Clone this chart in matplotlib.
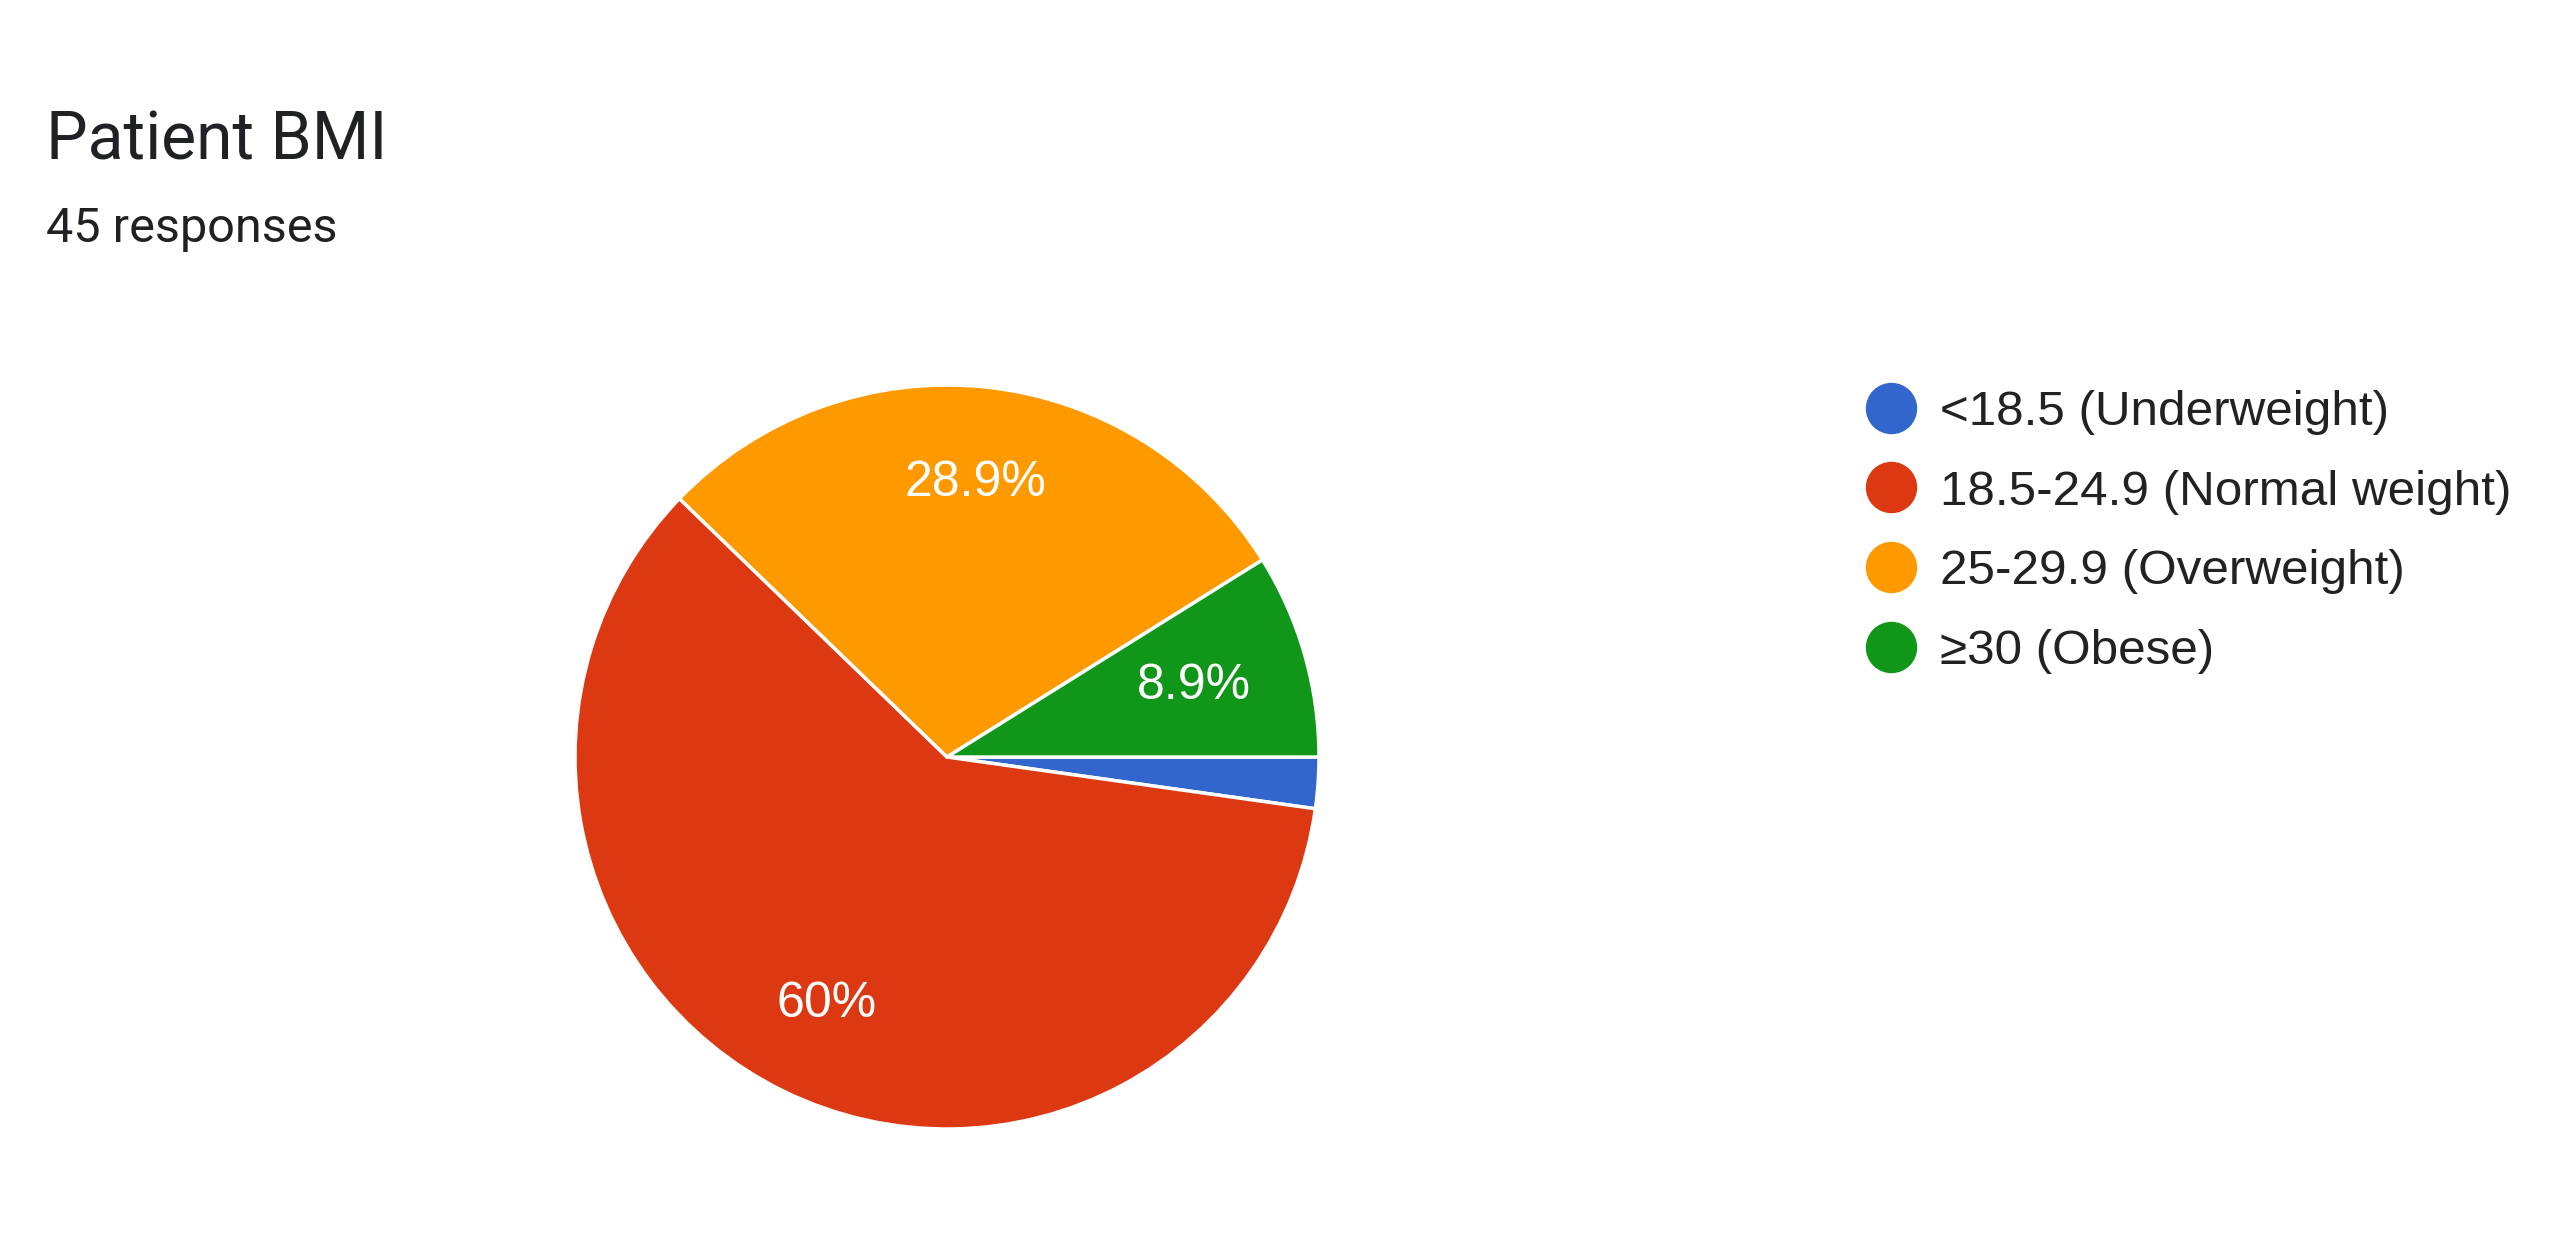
import numpy as np
import matplotlib.pyplot as plt
from matplotlib.lines import Line2D

# datos de la encuesta
categorias = ["<18.5 (Underweight)", "18.5-24.9 (Normal weight)",
              "25-29.9 (Overweight)", "≥30 (Obese)"]
respuestas = [1, 27, 13, 4]
colores = ["#3366cc", "#dc3912", "#ff9900", "#109618"]
titulo = "Patient BMI"
subtitulo = "45 responses"

W, H = 2560, 1237
fig = plt.figure(figsize=(W/100, H/100), dpi=100)

def etiqueta(p):
    if p < 5:
        return ""
    return f"{round(p, 1):g}%"

# pie: centro (947, 757) px, radio 372 px
cx, cy, r = 947, 757, 372
ax = fig.add_axes([(cx-r)/W, (H-cy-r)/H, 2*r/W, 2*r/H])
cunas, textos, pcts = ax.pie(respuestas, colors=colores, startangle=0, counterclock=False,
                             autopct=etiqueta, pctdistance=0.74,
                             wedgeprops=dict(edgecolor="white", linewidth=2.5),
                             textprops=dict(color="white", fontsize=36, family="Liberation Sans"))
# la etiqueta verde va un poco mas adentro
w = cunas[3]
ang = np.deg2rad((w.theta1 + w.theta2) / 2)
pcts[3].set_position((0.69*np.cos(ang), 0.69*np.sin(ang)))

ax.set_xlim(-1, 1)
ax.set_ylim(-1, 1)
ax.set_aspect("equal")

# titulo
fig.text(46/W, 1-160/H, titulo, fontsize=47.5, family="Roboto", color="#202124", va="baseline")
fig.text(46/W, 1-242/H, subtitulo, fontsize=35, family="Roboto", color="#202124", va="baseline")

# leyenda
handles = [Line2D([], [], marker="o", ls="", markersize=36, markerfacecolor=c,
                  markeredgecolor=c) for c in colores]
fig.legend(handles, categorias, loc="upper left", bbox_to_anchor=(1866/W, 1-390/H),
           frameon=False, borderpad=0, borderaxespad=0, handlelength=1.0, handletextpad=0.5,
           labelspacing=0.7, prop=dict(family="Liberation Sans", size=35.6), labelcolor="#222222")

plt.savefig("out.png", dpi=100)
